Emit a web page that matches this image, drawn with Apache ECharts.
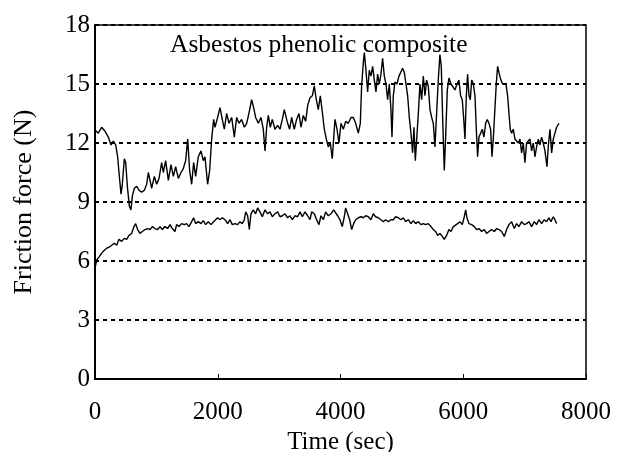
<!DOCTYPE html>
<html style="height: 100%">

<head>
  <meta charset="utf-8">
</head>

<body style="height: 100%; margin: 0; background: #fff">
  <div id="container" style="width: 635px; height: 452px"></div>
  <script type="text/javascript" src="https://cdn.jsdelivr.net/npm/echarts@6/dist/echarts.min.js"></script>
  <script type="text/javascript">
    // upper trace: time (sec) / friction force (N)
    var upperTime = [0, 54, 109, 163, 217, 261, 299, 337, 369, 391, 424, 445, 478, 500, 527, 559, 586, 608, 641, 679,
      717, 760, 804, 842, 869, 896, 923, 967, 1005, 1043, 1086, 1113, 1151, 1195, 1238, 1276, 1314, 1358, 1401, 1439,
      1477, 1510, 1542, 1575, 1607, 1640, 1683, 1727, 1765, 1792, 1835, 1868, 1901, 1933,
      1955, 1998, 2036, 2074, 2107, 2145, 2183, 2227, 2270, 2308, 2346, 2389, 2433, 2471, 2514, 2552, 2585, 2617,
      2661, 2704, 2742, 2770, 2797, 2824, 2856, 2889, 2932, 2976, 3014, 3052, 3084, 3112, 3139, 3171, 3204, 3247,
      3285, 3323, 3356, 3394, 3432, 3465, 3503, 3541, 3573, 3606, 3638, 3671, 3703, 3736, 3769, 3801, 3834, 3866, 3899,
      3910, 3943, 3975, 4008, 4046, 4084, 4127, 4171, 4209, 4247, 4290, 4323, 4344, 4372, 4388, 4415, 4442, 4469,
      4496, 4524, 4551, 4578, 4605, 4632, 4659, 4686, 4714, 4741, 4768, 4795, 4822, 4839, 4860, 4887, 4920, 4953,
      4985, 5012, 5039, 5067, 5094, 5121, 5148, 5175, 5197, 5219, 5240, 5268, 5295, 5322, 5349, 5376, 5403, 5430,
      5458, 5485, 5512, 5539, 5566, 5593, 5620, 5642, 5664, 5691, 5713, 5740, 5767, 5800, 5832, 5865,
      5898, 5930, 5957, 5984, 6006, 6028, 6050, 6071, 6093, 6115, 6137, 6164, 6191, 6213, 6234, 6256, 6283, 6310,
      6337, 6365, 6392, 6419, 6446, 6468, 6489, 6517, 6538, 6560, 6587, 6614, 6641, 6669, 6696, 6723, 6745, 6766,
      6788, 6815, 6842, 6870, 6897, 6924, 6951, 6978, 7005, 7032, 7060, 7087, 7114, 7141, 7168, 7195, 7223, 7250,
      7277, 7304, 7331, 7364, 7385, 7413, 7440, 7467, 7494, 7521, 7559];
    var upperForce = [12.66, 12.5, 12.8, 12.6, 12.3, 11.9, 12.1, 11.9, 11.3, 10.5, 9.4, 9.9, 11.2, 11.0, 9.8, 8.8, 8.6, 9.3, 9.7, 9.8,
      9.6, 9.5, 9.6, 9.9, 10.5, 10.1, 9.7, 10.3, 9.9, 10.2, 11.0, 10.5, 11.1, 10.1, 10.9, 10.3, 10.8, 10.2, 10.5, 10.7,
      11.1, 12.2, 10.6, 9.9, 11.0, 10.3, 11.3, 11.6, 11.1, 11.3, 9.9, 10.6, 12.2, 13.2,
      12.8, 13.3, 13.8, 13.2, 12.7, 13.5, 13.0, 13.3, 12.3, 13.3, 13.0, 13.2, 12.8, 13.0, 13.6, 14.2, 13.8, 13.3,
      13.0, 13.3, 12.7, 11.6, 12.8, 13.4, 12.8, 13.2, 12.7, 12.9, 12.7, 13.2, 13.7, 13.8, 13.0, 12.7, 13.3, 12.7,
      13.2, 13.5, 12.8, 13.4, 13.1, 13.9, 14.3, 14.4, 14.9, 14.2, 13.7, 14.4, 13.6, 12.7, 12.2, 11.8, 12.0, 11.2, 12.7,
      13.2, 12.7, 12.0, 13.0, 12.7, 13.1, 13.0, 13.3, 13.3, 13.0, 12.5, 13.0, 14.9, 16.1, 16.6, 15.7, 14.6, 15.7,
      15.4, 15.9, 15.2, 14.6, 15.5, 15.0, 15.5, 16.3, 15.4, 15.0, 14.2, 15.0, 13.7, 12.3, 14.4, 15.1, 15.0, 15.4,
      15.5, 15.8, 15.6, 15.0, 14.4, 13.3, 12.5, 11.5, 12.8, 11.1, 11.0, 13.5, 15.0, 14.2, 15.4, 14.4, 15.2, 14.9,
      13.7, 13.3, 13.0, 11.8, 13.5, 15.2, 16.5, 15.9, 13.3, 10.6, 12.3, 14.7, 15.3, 15.0, 14.9, 14.7,
      15.0, 15.2, 14.4, 14.2, 13.3, 12.2, 14.4, 15.5, 14.4, 14.2, 15.2, 15.0, 14.4, 12.7, 11.3, 12.3, 12.5, 12.7,
      12.3, 13.0, 13.2, 13.0, 12.7, 11.3, 12.2, 13.8, 15.0, 15.9, 15.5, 15.2, 15.0, 14.9, 15.0, 14.4, 13.5, 12.7,
      12.5, 12.7, 12.2, 12.3, 12.0, 12.2, 11.5, 12.0, 11.0, 12.0, 11.9, 12.2, 11.6, 12.0, 11.3, 11.8, 12.2, 11.9,
      12.3, 12.0, 11.6, 10.8, 11.8, 12.7, 11.5, 12.2, 12.5, 12.8, 13.0];

    // lower trace
    var lowerTime = [0, 27, 65, 109, 152, 190, 228, 272, 315, 353, 391, 434, 478, 516, 554, 597, 635, 662, 695, 733,
      771, 815, 858, 896, 934, 977, 1021, 1059, 1097, 1140, 1184, 1222, 1260, 1303, 1330, 1368, 1412, 1455, 1493, 1531,
      1575, 1607, 1640, 1683, 1727, 1765, 1803, 1846, 1890, 1933,
      1955, 1998, 2036, 2074, 2118, 2161, 2199, 2237, 2281, 2324, 2362, 2400, 2433, 2455, 2487, 2514, 2541, 2579,
      2617, 2650, 2688, 2726, 2770, 2813, 2851, 2889, 2932, 2976, 3014, 3052, 3095, 3139, 3177, 3215, 3258, 3302,
      3340, 3378, 3421, 3465, 3503, 3530, 3573, 3611, 3649, 3682, 3720, 3758, 3801, 3845, 3888,
      3910, 3953, 3991, 4029, 4062, 4084, 4116, 4149, 4182, 4214, 4247, 4290, 4334, 4372, 4410, 4453, 4496, 4534,
      4572, 4616, 4659, 4697, 4735, 4779, 4822, 4860, 4898, 4942, 4985, 5023, 5061, 5105, 5148, 5186, 5224, 5268,
      5311, 5349, 5387, 5430, 5474, 5512, 5550, 5582, 5620, 5658, 5691, 5729, 5767, 5800, 5838,
      5865, 5908, 5946, 5984, 6017, 6039, 6060, 6093, 6137, 6180, 6218, 6256, 6299, 6343, 6381, 6419, 6462, 6506,
      6544, 6582, 6625, 6669, 6707, 6745, 6788, 6832, 6870, 6907, 6951, 6994, 7032, 7070, 7114, 7157, 7195, 7233,
      7277, 7320, 7358, 7396, 7429, 7467, 7494, 7521];
    var lowerForce = [5.63, 6.05, 6.2, 6.4, 6.55, 6.65, 6.7, 6.8, 6.9, 6.8, 7.1, 7.0, 7.15, 7.1, 7.3, 7.4, 7.75, 7.9, 7.6, 7.4,
      7.5, 7.6, 7.65, 7.6, 7.75, 7.65, 7.6, 7.75, 7.6, 7.75, 7.65, 7.85, 7.65, 7.5, 7.85, 7.75, 7.9, 7.85, 7.9, 7.75,
      8.0, 8.2, 7.9, 8.0, 7.9, 8.05, 7.85, 8.0, 7.85, 8.0,
      7.9, 8.2, 8.1, 8.2, 8.1, 7.9, 8.1, 7.85, 7.9, 7.85, 8.0, 7.9, 8.1, 8.5, 8.3, 7.6, 8.4, 8.6,
      8.4, 8.7, 8.5, 8.25, 8.6, 8.4, 8.5, 8.25, 8.4, 8.5, 8.25, 8.3, 8.4, 8.2, 8.3, 8.1, 8.3, 8.25,
      8.5, 8.25, 8.5, 8.3, 8.1, 8.5, 8.4, 8.1, 7.85, 8.3, 8.1, 8.5, 8.3, 8.4, 8.6,
      8.5, 8.3, 8.1, 7.75, 8.25, 8.7, 8.75, 8.1, 7.6, 7.9, 8.1, 8.2, 8.25, 8.2, 8.3, 8.25, 8.1, 8.4,
      8.25, 8.2, 8.1, 8.0, 8.1, 8.0, 8.1, 8.1, 8.25, 8.2, 8.1, 8.2, 8.0, 8.1, 7.9, 8.05, 7.9, 8.0,
      7.85, 7.9, 7.85, 7.9, 7.75, 7.6, 7.5, 7.3, 7.4, 7.25, 7.1, 7.3, 7.6, 7.5, 7.75,
      7.75, 7.9, 8.0, 7.85, 8.25, 8.6, 8.2, 7.9, 7.85, 7.75, 7.6, 7.65, 7.5, 7.6, 7.4, 7.5, 7.6, 7.5,
      7.65, 7.6, 7.5, 7.25, 7.6, 7.85, 8.0, 7.65, 7.9, 7.75, 8.0, 7.85, 7.9, 8.0, 7.75, 8.0, 7.85, 8.1,
      7.9, 8.1, 8.0, 8.2, 8.0, 8.25, 8.1, 7.9];

    var xTicks = [0, 2000, 4000, 6000, 8000];
    var yTicks = [0, 3, 6, 9, 12, 15, 18];

    function pairs(xs, ys) {
      var out = [];
      for (var i = 0; i < xs.length; i++) out.push([xs[i], ys[i]]);
      return out;
    }

    var serif = '"Liberation Serif", "Times New Roman", serif';
    var myChart = echarts.init(document.getElementById('container'));
    var option = {
      animation: false,
      backgroundColor: '#fff',
      textStyle: { fontFamily: serif, color: '#000' },
      title: {
        text: 'Asbestos phenolic composite',
        left: 170,
        top: 32,
        padding: 0,
        textStyle: { fontFamily: serif, fontSize: 25.5, fontWeight: 'normal', color: '#000' }
      },
      grid: {
        left: 95, top: 25, width: 491, height: 354,
        containLabel: false,
        outerBoundsMode: 'none',
        show: true,
        borderColor: '#000',
        borderWidth: 1.5,
        backgroundColor: 'transparent'
      },
      xAxis: {
        type: 'value',
        min: xTicks[0],
        max: xTicks[xTicks.length - 1],
        interval: xTicks[1] - xTicks[0],
        name: 'Time (sec)',
        nameLocation: 'middle',
        nameGap: 44,
        nameTextStyle: { fontFamily: serif, fontSize: 25, color: '#000' },
        axisLine: { show: true, lineStyle: { color: '#000', width: 2 } },
        axisTick: { show: true, inside: true, length: 5, lineStyle: { color: '#000', width: 1 } },
        axisLabel: {
          fontFamily: serif, fontSize: 25, color: '#000', margin: 21,
          formatter: function (v) { return String(v); }
        },
        splitLine: { show: false }
      },
      yAxis: {
        type: 'value',
        min: yTicks[0],
        max: yTicks[yTicks.length - 1],
        interval: yTicks[1] - yTicks[0],
        name: 'Friction force (N)',
        nameLocation: 'middle',
        nameGap: 58,
        nameTextStyle: { fontFamily: serif, fontSize: 26, color: '#000' },
        axisLine: { show: true, lineStyle: { color: '#000', width: 2 } },
        axisTick: { show: false },
        axisLabel: { fontFamily: serif, fontSize: 25, color: '#000', margin: 5, padding: [0, 0, 8, 0] },
        splitLine: { show: true, lineStyle: { color: '#000', width: 2, type: [4, 4] } }
      },
      series: [{
        name: 'upper',
        type: 'line',
        data: pairs(upperTime, upperForce),
        showSymbol: false,
        lineStyle: { color: '#000', width: 1.4 },
        z: 3
      }, {
        name: 'lower',
        type: 'line',
        data: pairs(lowerTime, lowerForce),
        showSymbol: false,
        lineStyle: { color: '#000', width: 1.4 },
        z: 3
      }]
    };
    myChart.setOption(option);
  </script>
</body>

</html>
